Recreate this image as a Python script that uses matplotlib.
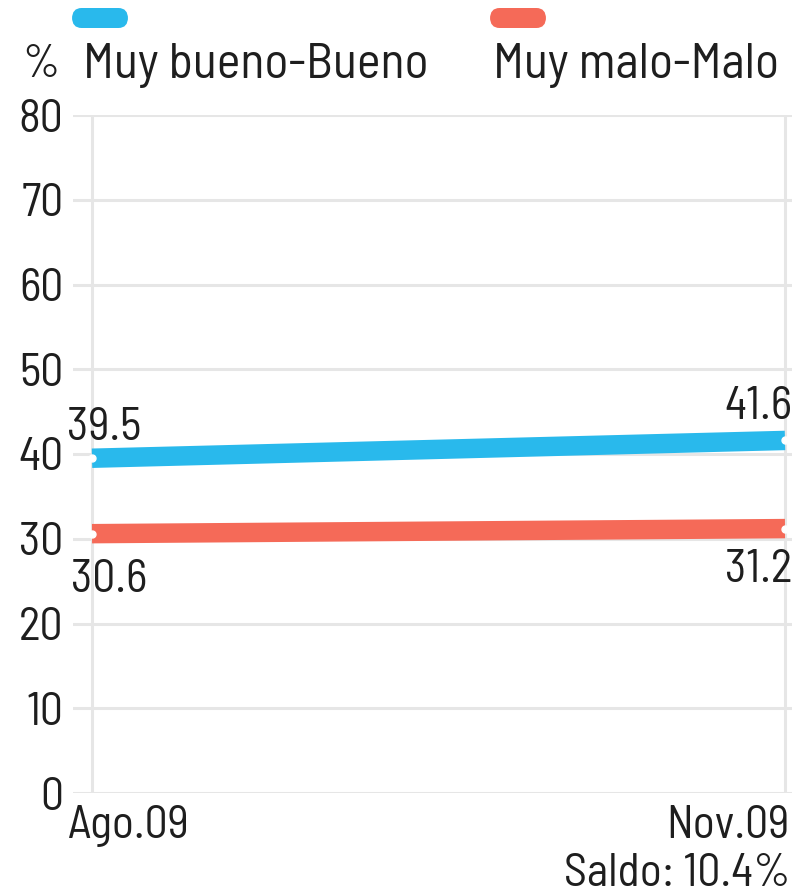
import matplotlib
matplotlib.use("Agg")
import matplotlib.pyplot as plt
from matplotlib.patches import FancyBboxPatch

plt.rcParams['font.family'] = ['Barlow Semi Condensed', 'DejaVu Sans']

periods = ["Ago.09", "Nov.09"]
series_names = ["Muy bueno-Bueno", "Muy malo-Malo"]
good = [39.5, 41.6]
bad = [30.6, 31.2]
yticks = [0, 10, 20, 30, 40, 50, 60, 70, 80]
saldo = "Saldo: 10.4%"

BLUE = "#29B9EC"
RED = "#F56A58"
TXT = "#1e1e1e"

W, H = 794, 894
fig = plt.figure(figsize=(W / 100, H / 100), dpi=100)
ax_left, ax_right = 73, 792
ax_bot, ax_top = 793, 115
ax = fig.add_axes([ax_left / W, 1 - ax_bot / H, (ax_right - ax_left) / W, (ax_bot - ax_top) / H])

x0px, x1px = 92, 785
scale = x1px - x0px
ax.set_xlim((ax_left - x0px) / scale, 1 + (ax_right - x1px) / scale)
ax.set_ylim(0, 80)
xs = [0, 1]

for y in yticks:
    ax.axhline(y, color="#e6e6e6", lw=2.2, zorder=0)
for x in xs:
    ax.axvline(x, color="#e6e6e6", lw=2.2, zorder=0)

ax.plot(xs, good, color=BLUE, lw=14, solid_capstyle="butt", zorder=3)
ax.plot(xs, bad, color=RED, lw=14, solid_capstyle="butt", zorder=3)
ax.plot(xs, good, 'o', color="white", ms=5, zorder=4)
ax.plot(xs, bad, 'o', color="white", ms=5, zorder=4)

for s in ax.spines.values():
    s.set_visible(False)
ax.set_xticks([])
ax.set_yticks(yticks)
ax.set_yticklabels([str(v) for v in yticks], fontsize=33, color=TXT)
ax.tick_params(axis='y', length=0, pad=7)

fs = 33
ax.annotate(f"{good[0]}", (0, good[0]), xytext=(-18, 7), textcoords="offset points",
            ha="left", va="bottom", fontsize=fs, color=TXT)
ax.annotate(f"{good[1]}", (1, good[1]), xytext=(5, 9), textcoords="offset points",
            ha="right", va="bottom", fontsize=fs, color=TXT)
ax.annotate(f"{bad[0]}", (0, bad[0]), xytext=(-15, -18), textcoords="offset points",
            ha="left", va="top", fontsize=fs, color=TXT)
ax.annotate(f"{bad[1]}", (1, bad[1]), xytext=(5, -15), textcoords="offset points",
            ha="right", va="top", fontsize=fs, color=TXT)

# x labels
fig.text(68 / W, 1 - 826 / H, periods[0], ha="left", va="center", fontsize=fs, color=TXT)
fig.text(790 / W, 1 - 826 / H, periods[1], ha="right", va="center", fontsize=fs, color=TXT)
fig.text(790 / W, 1 - 874 / H, saldo, ha="right", va="center", fontsize=fs, color=TXT)

# legend
for xl, col in [(72, BLUE), (490, RED)]:
    p = FancyBboxPatch((xl / W, 1 - 28 / H), 56 / W, 20 / H,
                       boxstyle="round,pad=0,rounding_size=0.012",
                       transform=fig.transFigure, facecolor=col, edgecolor="none")
    fig.patches.append(p)
fig.text(22 / W, 1 - 65 / H, "%", ha="left", va="center", fontsize=fs, color=TXT)
fig.text(83 / W, 1 - 65 / H, series_names[0], ha="left", va="center", fontsize=36, color=TXT)
fig.text(493 / W, 1 - 65 / H, series_names[1], ha="left", va="center", fontsize=36, color=TXT)

fig.savefig("out.png", dpi=100)
